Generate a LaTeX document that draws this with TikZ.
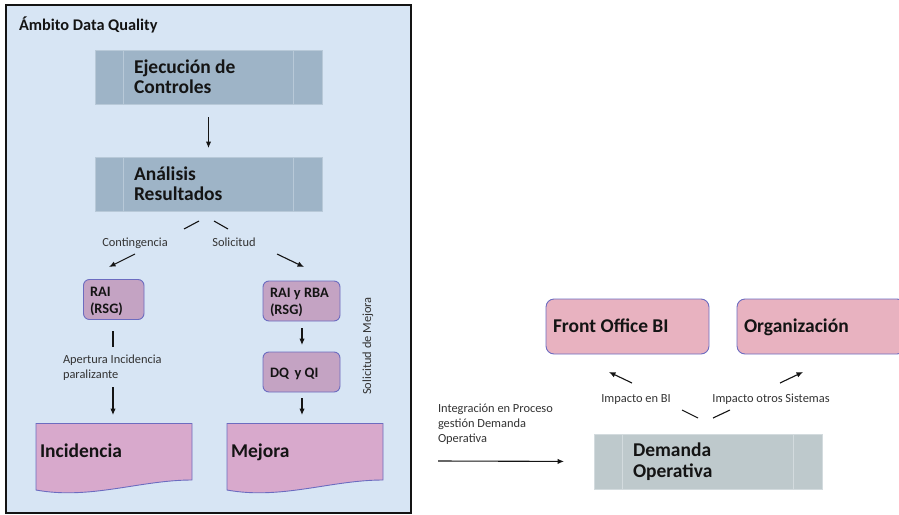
\documentclass[tikz,border=0pt]{standalone}
\usepackage{fontspec}
\setmainfont{Carlito}
\usetikzlibrary{arrows.meta}

\definecolor{framefill}{HTML}{D7E5F4}
\definecolor{procfill}{HTML}{9EB4C7}
\definecolor{procline}{HTML}{B8C9D8}
\definecolor{mauve}{HTML}{C4A3C3}
\definecolor{docfill}{HTML}{D8A9CC}
\definecolor{pinkfill}{HTML}{E8B2C0}
\definecolor{boxedge}{HTML}{6C6CC0}
\definecolor{demfill}{HTML}{BEC9CC}
\definecolor{demline}{HTML}{D3DBDE}
\definecolor{ink}{HTML}{141414}
\definecolor{labelink}{HTML}{333333}

\begin{document}
\begin{tikzpicture}[x=1pt,y=-1pt,
  every node/.style={inner sep=0pt, outer sep=0pt, text=ink},
  procbox/.style={fill=procfill, draw=procline, line width=0.6pt, minimum width=227pt, minimum height=54pt},
  dembox/.style={fill=demfill, draw=demline, line width=0.6pt, minimum width=228pt, minimum height=55pt},
  bigtext/.style={font=\fontsize{19.5}{21}\selectfont\bfseries, anchor=base west},
  midtext/.style={font=\fontsize{14.4}{18}\selectfont\bfseries, anchor=base west},
  roundbox/.style={fill=mauve, draw=boxedge, line width=0.9pt, rounded corners=6pt},
  pinkbox/.style={fill=pinkfill, draw=boxedge, line width=0.9pt, rounded corners=8pt},
  docshape/.style={fill=docfill, draw=boxedge, line width=0.9pt},
  lbl/.style={font=\fontsize{12.4}{15}\selectfont, text=labelink, anchor=base west},
  conn/.style={draw=ink, line width=1.1pt},
  arr/.style={conn, -{Latex[length=6.5pt,width=5.5pt]}}
]
\useasboundingbox (0,0) rectangle (899,514);

% ---- Data Quality frame ----
\draw[fill=framefill, draw=ink, line width=1.4pt] (6,5) rectangle (411,513);
\node[anchor=base west, font=\fontsize{16.3}{18}\selectfont\bfseries] (title) at (19,30.5) {Ámbito Data Quality};

% ---- process boxes ----
\node[procbox] (exec) at (208.5,77) {};
\draw[procline, line width=0.8pt] ([xshift=28pt]exec.north west) -- ([xshift=28pt]exec.south west);
\draw[procline, line width=0.8pt] ([xshift=-29pt]exec.north east) -- ([xshift=-29pt]exec.south east);
\node[bigtext] (exec1) at (134,73.5) {Ejecución de};
\node[bigtext] (exec2) at (134,93.5) {Controles};

\node[procbox] (anal) at (208.5,184) {};
\draw[procline, line width=0.8pt] ([xshift=28pt]anal.north west) -- ([xshift=28pt]anal.south west);
\draw[procline, line width=0.8pt] ([xshift=-29pt]anal.north east) -- ([xshift=-29pt]anal.south east);
\node[bigtext] (anal1) at (134,180.5) {Análisis};
\node[bigtext] (anal2) at (134,200.5) {Resultados};

\draw[arr, shorten <=13pt, shorten >=9pt] (exec.south) -- (anal.north);

% ---- branch labels ----
\node[lbl, anchor=base] (cont) at (135,246) {Contingencia};
\node[lbl, anchor=base] (soli) at (234,246) {Solicitud};
\coordinate (c1) at (199,221); \coordinate (c2) at (184,229);
\coordinate (s1) at (214,221); \coordinate (s2) at (228,229);
\draw[conn] (c1) -- (c2);
\draw[conn] (s1) -- (s2);
\coordinate (c3) at (135,254); \coordinate (c4) at (109,267);
\coordinate (s3) at (277,254); \coordinate (s4) at (304,267);
\draw[arr] (c3) -- (c4);
\draw[arr] (s3) -- (s4);

% ---- left branch ----
\draw[roundbox] (83.5,279.5) rectangle (144,319.5);
\node[midtext] (rai1) at (90,296) {RAI};
\node[midtext] (rai2) at (90,313.5) {(RSG)};
\coordinate (l1) at (113,331); \coordinate (l2) at (113,347);
\draw[conn] (l1) -- (l2);
\node[lbl] (apert1) at (63,363) {Apertura Incidencia};
\node[lbl] (apert2) at (63,378) {paralizante};
\coordinate (l3) at (113,387); \coordinate (l4) at (113,415);
\draw[arr] (l3) -- (l4);

\draw[docshape] (36,423.5) -- (192,423.5) -- (192,480) .. controls (140,480) and (90,500) .. (36,490) -- cycle;
\node[bigtext] (inc) at (40,457.5) {Incidencia};

% ---- right branch ----
\draw[roundbox] (263,281) rectangle (340,321);
\node[midtext] (raib1) at (270,297) {RAI y RBA};
\node[midtext] (raib2) at (270,314.5) {(RSG)};
\coordinate (r1) at (302,328); \coordinate (r2) at (302,345);
\draw[arr] (r1) -- (r2);
\draw[roundbox] (263,352) rectangle (340,392);
\node[midtext] (dq) at (270,377) {DQ\, y QI};
\coordinate (r3) at (302,398); \coordinate (r4) at (302,415);
\draw[arr] (r3) -- (r4);

\draw[docshape] (227,423.5) -- (383,423.5) -- (383,480) .. controls (331,480) and (281,500) .. (227,490) -- cycle;
\node[bigtext] (mej) at (231,457.5) {Mejora};

\node[lbl, anchor=center, rotate=90] (solmej) at (368,346) {Solicitud de Mejora};

% ---- operational demand ----
\draw[pinkbox] (546,299) rectangle (709,354);
\node[bigtext] (fo) at (553,332) {Front Office BI};
\draw[pinkbox] (737,299) rectangle (905,354);
\node[bigtext] (org) at (744,332) {Organización};

\node[dembox] (dem) at (708,461.5) {};
\draw[demline, line width=0.9pt] ([xshift=28pt]dem.north west) -- ([xshift=28pt]dem.south west);
\draw[demline, line width=0.9pt] ([xshift=-29pt]dem.north east) -- ([xshift=-29pt]dem.south east);
\node[bigtext] (dem1) at (633,456) {Demanda};
\node[bigtext] (dem2) at (633,477) {Operativa};

\node[lbl, anchor=base] (imbi) at (636,402) {Impacto en BI};
\node[lbl, anchor=base] (imot) at (771,402) {Impacto otros Sistemas};
\coordinate (d1) at (682,410); \coordinate (d2) at (698,418);
\coordinate (d3) at (713,418); \coordinate (d4) at (730,410);
\draw[conn] (d1) -- (d2);
\draw[conn] (d3) -- (d4);
\coordinate (f1) at (632,383); \coordinate (f2) at (609,372);
\coordinate (o1) at (780,383); \coordinate (o2) at (803,372);
\draw[arr] (f1) -- (f2);
\draw[arr] (o1) -- (o2);

\node[lbl] (integ1) at (438,412) {Integración en Proceso};
\node[lbl] (integ2) at (438,427) {gestión Demanda};
\node[lbl] (integ3) at (438,442) {Operativa};
\coordinate (i1) at (438,461);
\draw[arr, shorten >=30pt] (i1) -- (dem.west);

\end{tikzpicture}
\end{document}
